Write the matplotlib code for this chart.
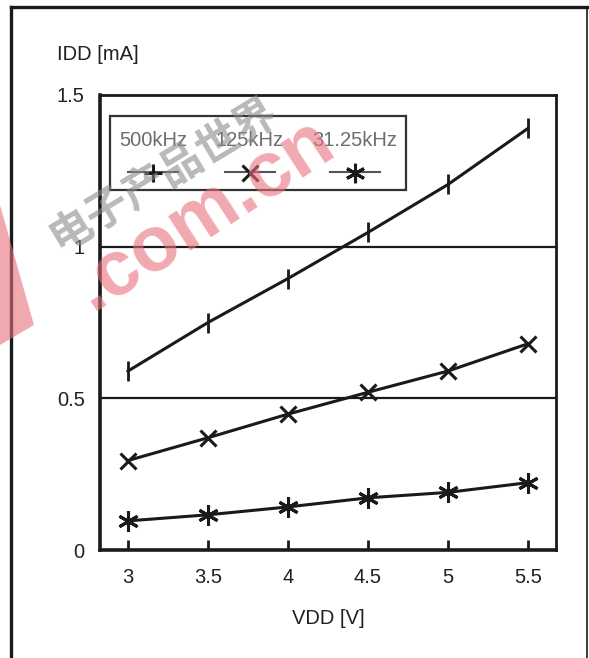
import matplotlib
matplotlib.use("Agg")
import matplotlib.pyplot as plt
from matplotlib.lines import Line2D
from matplotlib.patches import Rectangle, Polygon

plt.rcParams['font.family'] = ['Liberation Sans', 'Noto Sans CJK SC', 'DejaVu Sans']

# Data
vdd = [3.0, 3.5, 4.0, 4.5, 5.0, 5.5]
idd_500k = [0.59, 0.75, 0.895, 1.047, 1.205, 1.39]
idd_125k = [0.295, 0.37, 0.448, 0.52, 0.59, 0.68]
idd_31k = [0.096, 0.116, 0.142, 0.172, 0.19, 0.222]
labels = ['500kHz', '125kHz', '31.25kHz']
xticks = [3, 3.5, 4, 4.5, 5, 5.5]
xtick_labels = ['3', '3.5', '4', '4.5', '5', '5.5']
yticks = [0, 0.5, 1, 1.5]
ytick_labels = ['0', '0.5', '1', '1.5']

W, H = 589, 658
fig = plt.figure(figsize=(W / 100, H / 100), dpi=100)
ax = fig.add_axes([100 / W, 1 - 550 / H, 456 / W, 455 / H])

txt = '#231f20'
fs = 14.5
asterisk = (6, 2, 0)
ax.plot(vdd, idd_500k, color='#1a1a1a', lw=2.2, marker='|', ms=14, mew=2)
ax.plot(vdd, idd_125k, color='#1a1a1a', lw=2.2, marker='x', ms=12, mew=2.2)
ax.plot(vdd, idd_31k, color='#1a1a1a', lw=2.2, marker=asterisk, ms=15, mew=2.2)

# horizontal grid at 0.5 and 1
for yv in yticks[1:3]:
    ax.axhline(yv, color='#1a1a1a', lw=1.6, zorder=1)

ax.set_xlim(2.825, 5.675)
ax.set_ylim(0, 1.5)
ax.set_xticks(xticks)
ax.set_xticklabels(xtick_labels, fontsize=fs, color=txt)
ax.set_yticks(yticks)
ax.set_yticklabels(ytick_labels, fontsize=fs, color=txt)
ax.tick_params(axis='x', direction='in', length=7, width=2, pad=13, colors='#1a1a1a', labelcolor=txt)
ax.tick_params(axis='y', length=0, pad=11, labelcolor=txt)
for s in ['left', 'bottom']:
    ax.spines[s].set_linewidth(2.6)
for s in ['top', 'right']:
    ax.spines[s].set_linewidth(2.0)
for s in ax.spines.values():
    s.set_color('#1a1a1a')

ax.set_xlabel('VDD [V]', fontsize=fs, color=txt, labelpad=16)
fig.text(57 / W, 1 - 55 / H, 'IDD [mA]', fontsize=fs, color=txt, va='center', ha='left')

# legend drawn by hand: labels above marker samples
leg_box = Rectangle((0.022, 0.791), 0.649, 0.163, transform=ax.transAxes,
                    fill=True, facecolor='white', edgecolor='#333333', lw=1.6, zorder=4)
ax.add_patch(leg_box)
leg_x = [0.116, 0.329, 0.559]
leg_markers = ['+', 'x', asterisk]
leg_ms = [13, 11, 14]
for xc, lab, mk, ms in zip(leg_x, labels, leg_markers, leg_ms):
    ax.text(xc, 0.899, lab, transform=ax.transAxes, ha='center', va='center',
            fontsize=fs, color='#6d6d6d', zorder=5)
    ax.add_line(Line2D([xc - 0.055, xc + 0.055], [0.831, 0.831], transform=ax.transAxes,
                       color='#555555', lw=1.5, zorder=5))
    ax.add_line(Line2D([xc], [0.829], transform=ax.transAxes, marker=mk, ms=ms, mew=2.2,
                       color='#1a1a1a', lw=0, zorder=6))

# outer frame
fk = dict(transform=fig.transFigure, color='#1a1a1a')
fig.add_artist(Line2D([11 / W, 11 / W], [0, 1 - 7 / H], lw=2.4, **fk))
fig.add_artist(Line2D([11 / W, 588 / W], [1 - 7 / H, 1 - 7 / H], lw=2.4, **fk))
fig.add_artist(Line2D([587 / W, 587 / W], [0, 1 - 7 / H], lw=1.2, **fk))

# watermark
fig.add_artist(Polygon([[0, 1 - 205 / H], [34 / W, 1 - 325 / H], [0, 1 - 345 / H]],
                       closed=True, transform=fig.transFigure, facecolor='#e8707c',
                       edgecolor='none', alpha=0.6, zorder=10))
fig.text(204 / W, 1 - 214 / H, '.com.cn', fontsize=56, fontweight='bold', color='#e8707c',
         alpha=0.6, rotation=33, ha='center', va='center', zorder=10)
fig.text(163 / W, 1 - 174 / H, '电子产品世界', fontsize=31, fontweight='bold', color='#8a8a8a',
         alpha=0.6, rotation=31, ha='center', va='center', zorder=10, family=['Noto Sans CJK SC'])

fig.savefig('out.png', dpi=100)
